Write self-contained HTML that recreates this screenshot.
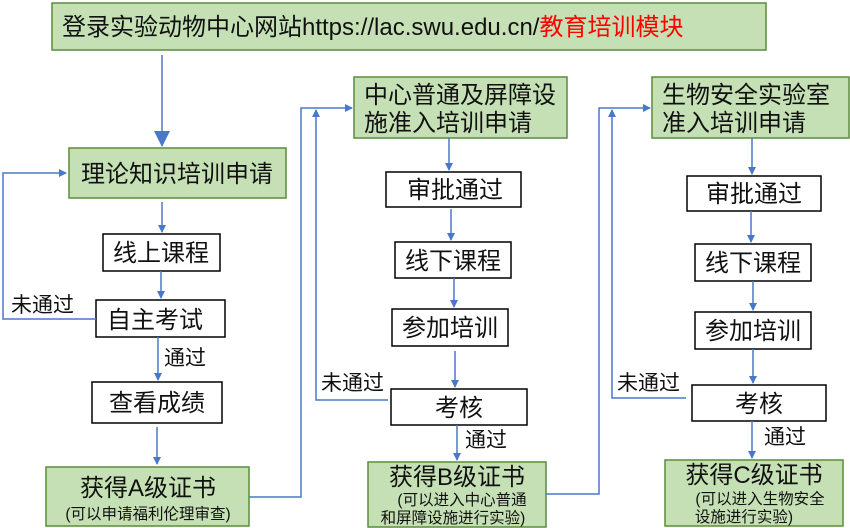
<!DOCTYPE html>
<html><head><meta charset="utf-8"><style>
html,body{margin:0;padding:0;background:#fff;}
svg{display:block;font-family:"Liberation Sans","Noto Sans CJK SC",sans-serif;}
.g{fill:#c5e0b4;stroke:#5b8c3a;stroke-width:1.5}
.w{fill:#fff;stroke:#000;stroke-width:1.5}
.l{fill:none;stroke:#4a78c8;stroke-width:1.5}
.t{font-size:24px;fill:#111}
.s{font-size:15.5px;fill:#111}
.m{font-size:21px;fill:#111}
</style></head><body>
<svg width="850" height="528" viewBox="0 0 850 528">
<defs><marker id="a" markerWidth="8" markerHeight="8" refX="7" refY="4" orient="auto" markerUnits="userSpaceOnUse"><path d="M0,0 L8,4 L0,8z" fill="#4a78c8"/></marker>
<marker id="b" markerWidth="16" markerHeight="16" refX="15" refY="8" orient="auto" markerUnits="userSpaceOnUse"><path d="M0,0 L16,8 L0,16z" fill="#4a78c8"/></marker></defs>

<rect class="g" x="52" y="3" width="714" height="47"/>
<text x="62" y="35" class="t">登录实验动物中心网站https://lac.swu.edu.cn/<tspan fill="#ff0000">教育培训模块</tspan></text>
<line class="l" x1="162" y1="55" x2="162" y2="146" marker-end="url(#b)"/>

<!-- column A -->
<rect class="g" x="69" y="148" width="217" height="50"/>
<text x="177" y="182" class="t" text-anchor="middle">理论知识培训申请</text>
<line class="l" x1="162" y1="202" x2="162" y2="232" marker-end="url(#a)"/>
<rect class="w" x="103" y="234" width="117" height="37"/>
<text x="161" y="261" class="t" text-anchor="middle">线上课程</text>
<line class="l" x1="161" y1="271" x2="161" y2="298" marker-end="url(#a)"/>
<rect class="w" x="96" y="300" width="129" height="37"/>
<text x="155" y="328" class="t" text-anchor="middle">自主考试</text>
<polyline class="l" points="96,319 3,319 3,173 66,173" marker-end="url(#a)"/>
<text x="11" y="312" class="m">未通过</text>
<line class="l" x1="158" y1="337" x2="158" y2="380" marker-end="url(#a)"/>
<text x="164" y="365" class="m">通过</text>
<rect class="w" x="92" y="382" width="130" height="41"/>
<text x="157" y="411" class="t" text-anchor="middle">查看成绩</text>
<line class="l" x1="157" y1="427" x2="157" y2="464" marker-end="url(#a)"/>
<rect class="g" x="46" y="467" width="203" height="59"/>
<text x="148" y="496" class="t" text-anchor="middle">获得A级证书</text>
<text x="148" y="519" class="s" text-anchor="middle">(可以申请福利伦理审查)</text>
<polyline class="l" points="249,497 301,497 301,108 352,108" marker-end="url(#a)"/>

<!-- column B -->
<rect class="g" x="354" y="77" width="213" height="61"/>
<text x="364" y="103" class="t">中心普通及屏障设</text>
<text x="364" y="131" class="t">施准入培训申请</text>
<line class="l" x1="449" y1="138" x2="449" y2="170" marker-end="url(#a)"/>
<rect class="w" x="386" y="172" width="135" height="35"/>
<text x="455" y="198" class="t" text-anchor="middle">审批通过</text>
<line class="l" x1="451" y1="209" x2="451" y2="240" marker-end="url(#a)"/>
<rect class="w" x="395" y="242" width="116" height="36"/>
<text x="453" y="269" class="t" text-anchor="middle">线下课程</text>
<line class="l" x1="454" y1="278" x2="454" y2="307" marker-end="url(#a)"/>
<rect class="w" x="392" y="309" width="116" height="37"/>
<text x="450" y="336" class="t" text-anchor="middle">参加培训</text>
<line class="l" x1="455" y1="351" x2="455" y2="387" marker-end="url(#a)"/>
<rect class="w" x="391" y="389" width="136" height="36"/>
<text x="459" y="416" class="t" text-anchor="middle">考核</text>
<polyline class="l" points="388,400 316,400 316,110" marker-end="url(#a)"/>
<text x="321" y="390" class="m">未通过</text>
<line class="l" x1="457" y1="425" x2="457" y2="460" marker-end="url(#a)"/>
<text x="465" y="447" class="m">通过</text>
<rect class="g" x="368" y="462" width="178" height="65"/>
<text x="457" y="485" class="t" text-anchor="middle">获得B级证书</text>
<text x="462" y="505" class="s" text-anchor="middle">(可以进入中心普通</text>
<text x="453" y="523" class="s" text-anchor="middle">和屏障设施进行实验)</text>
<polyline class="l" points="546,494 599,494 599,108 650,108" marker-end="url(#a)"/>

<!-- column C -->
<rect class="g" x="652" y="77" width="197" height="61"/>
<text x="662" y="103" class="t">生物安全实验室</text>
<text x="662" y="131" class="t">准入培训申请</text>
<line class="l" x1="752" y1="138" x2="752" y2="174" marker-end="url(#a)"/>
<rect class="w" x="687" y="176" width="134" height="35"/>
<text x="754" y="202" class="t" text-anchor="middle">审批通过</text>
<line class="l" x1="751" y1="211" x2="751" y2="242" marker-end="url(#a)"/>
<rect class="w" x="695" y="244" width="116" height="37"/>
<text x="753" y="271" class="t" text-anchor="middle">线下课程</text>
<line class="l" x1="753" y1="281" x2="753" y2="310" marker-end="url(#a)"/>
<rect class="w" x="695" y="312" width="116" height="37"/>
<text x="753" y="339" class="t" text-anchor="middle">参加培训</text>
<line class="l" x1="753" y1="349" x2="753" y2="383" marker-end="url(#a)"/>
<rect class="w" x="692" y="385" width="134" height="36"/>
<text x="759" y="412" class="t" text-anchor="middle">考核</text>
<polyline class="l" points="686,398 612,398 612,110" marker-end="url(#a)"/>
<text x="617" y="390" class="m">未通过</text>
<line class="l" x1="752" y1="421" x2="752" y2="458" marker-end="url(#a)"/>
<text x="764" y="444" class="m">通过</text>
<rect class="g" x="665" y="460" width="178" height="66"/>
<text x="754" y="483" class="t" text-anchor="middle">获得C级证书</text>
<text x="760" y="504" class="s" text-anchor="middle">(可以进入生物安全</text>
<text x="744" y="522" class="s" text-anchor="middle">设施进行实验)</text>
</svg>
</body></html>
